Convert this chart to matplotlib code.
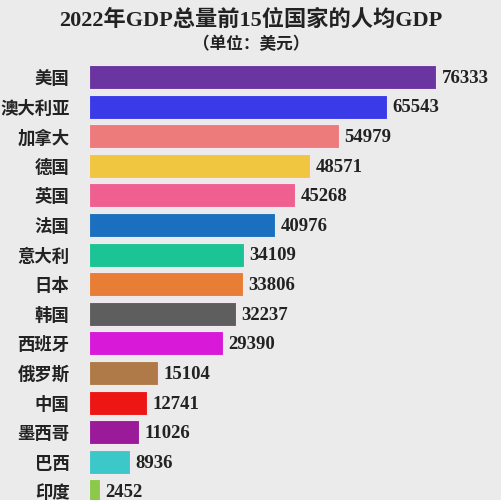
import matplotlib
matplotlib.use("Agg")
import matplotlib.pyplot as plt

countries = ["美国", "澳大利亚", "加拿大", "德国", "英国", "法国", "意大利", "日本",
             "韩国", "西班牙", "俄罗斯", "中国", "墨西哥", "巴西", "印度"]
values = [76333, 65543, 54979, 48571, 45268, 40976, 34109, 33806,
          32237, 29390, 15104, 12741, 11026, 8936, 2452]
colors = ["#6a35a0", "#3a3ae8", "#ee7b7b", "#f0c640", "#ef6090", "#1a6fbf",
          "#1ac494", "#e87e35", "#5e5e5e", "#d81ad8", "#b07a48", "#ee1515",
          "#9a1a9a", "#3cc8c8", "#8cc84a"]

bg = "#ebebeb"
fam = ["Liberation Serif", "Noto Sans CJK SC"]
cjk = ["Noto Sans CJK SC", "DejaVu Sans"]

fig = plt.figure(figsize=(5.02, 5.00), dpi=100, facecolor=bg)
ax = fig.add_axes([89/502, 0, 400/502, (500-62.2)/500])
ax.set_facecolor(bg)

pos = list(range(len(countries)))
ax.barh(pos, values, height=0.81, color=colors, edgecolor="#f4e8f0", linewidth=0.8)
ax.set_xlim(0, 76333*400/347)
ax.set_ylim(14.29, -0.5)
for s in ax.spines.values():
    s.set_visible(False)
ax.set_xticks([])
ax.set_yticks(pos)
ax.set_yticklabels(countries, family=cjk, fontweight="bold", fontsize=12.5, color="#222222")
ax.tick_params(axis="y", length=0, pad=14)

for p, v in zip(pos, values):
    ax.annotate(str(v), (v, p), xytext=(4, -1), textcoords="offset points",
                va="center", ha="left", family=fam, fontweight="bold",
                fontsize=13.5, color="#222222")

fig.text(0.5, 1 - 20/500, "2022年GDP总量前15位国家的人均GDP", ha="center", va="center",
         family=fam, fontweight="bold", fontsize=16, color="#222222")
fig.text(0.5, 1 - 44/500, "（单位：美元）", ha="center", va="center",
         family=cjk, fontweight="bold", fontsize=12, color="#222222")

fig.savefig("out.png", dpi=100, facecolor=bg)
